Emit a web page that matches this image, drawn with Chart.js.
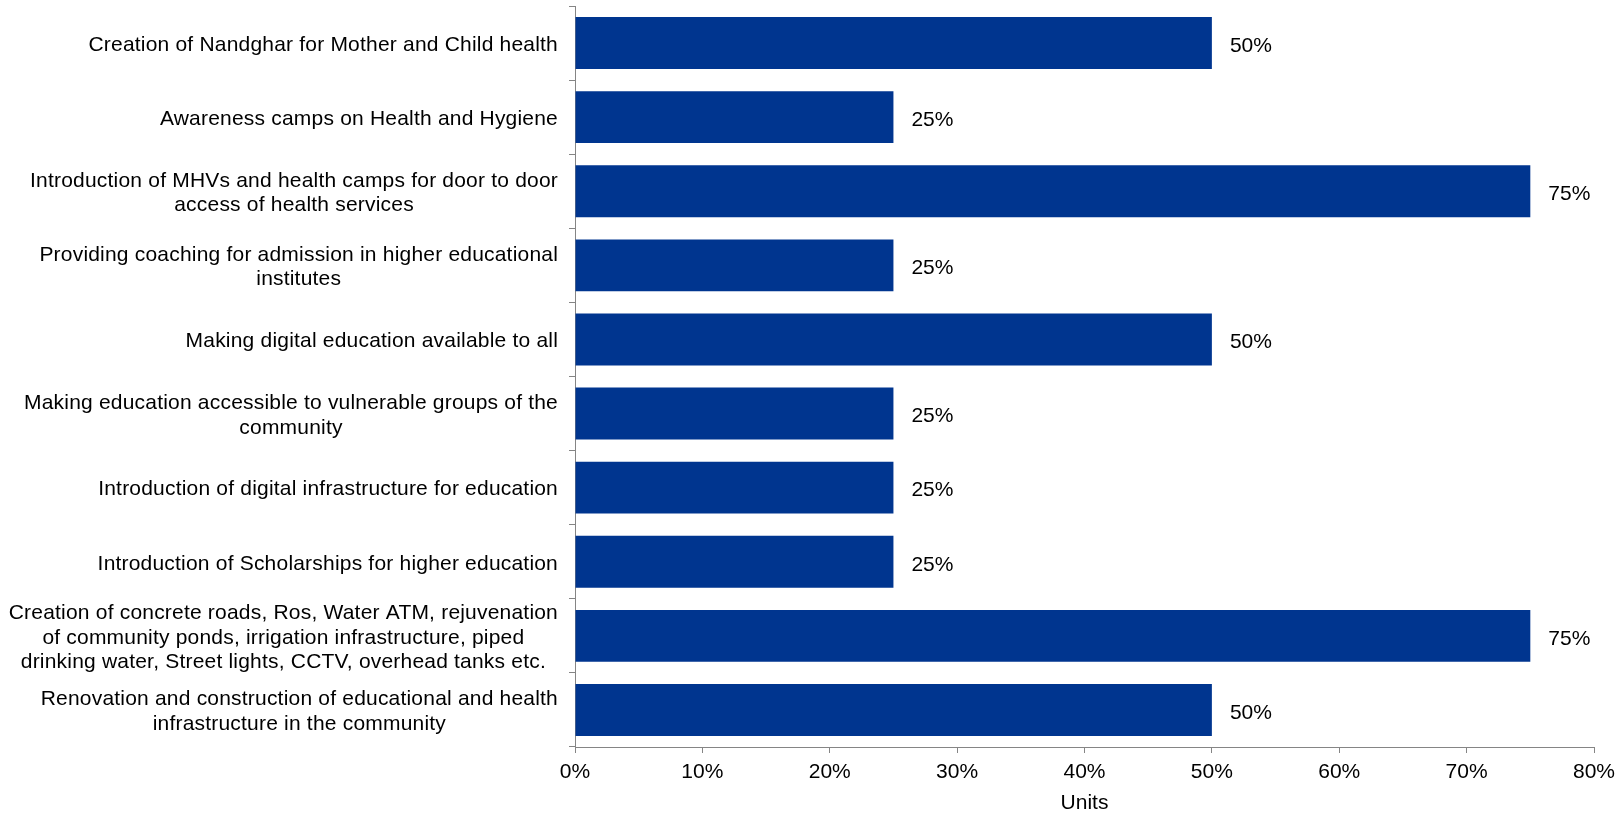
<!DOCTYPE html>
<html>
<head>
<meta charset="utf-8">
<script src="https://cdn.jsdelivr.net/npm/chart.js@4/dist/chart.umd.min.js"></script>
<style>
  html, body { margin: 0; padding: 0; background: #ffffff; }
  #wrap { width: 1616px; height: 814px; position: relative; }
</style>
</head>
<body>
<div id="wrap"><canvas id="c" width="1616" height="814"></canvas></div>
<script>
const categories = [
  "Creation of Nandghar for Mother and Child health",
  "Awareness camps on Health and Hygiene",
  ["Introduction of MHVs and health camps for door to door", "access of health services"],
  ["Providing coaching for admission in higher educational", "institutes"],
  "Making digital education available to all",
  ["Making education accessible to vulnerable groups of the", "community"],
  "Introduction of digital infrastructure for education",
  "Introduction of Scholarships for higher education",
  ["Creation of concrete roads, Ros, Water ATM, rejuvenation", "of community ponds, irrigation infrastructure, piped", "drinking water, Street lights, CCTV, overhead tanks etc."],
  ["Renovation and construction of educational and health", "infrastructure in the community"]
];
const values = [50, 25, 75, 25, 50, 25, 25, 25, 75, 50];
const xTickValues = [0, 10, 20, 30, 40, 50, 60, 70, 80];
const xTitle = "Units";

const FONT = '"Liberation Sans", Arial, sans-serif';
const AXIS_GREY = '#858585';

const yLabelPlugin = {
  id: 'yLabels',
  afterDraw(chart) {
    const ys = chart.scales.y;
    const ctx = chart.ctx;
    ctx.save();
    ctx.font = '21px ' + FONT;
    try { ctx.letterSpacing = '0.2px'; } catch (e) {}
    ctx.fillStyle = '#000000';
    ctx.textAlign = 'center';
    ctx.textBaseline = 'middle';
    const rightEdge = ys.right - 17;
    const lh = 24.5;
    categories.forEach((lab, i) => {
      const lines = Array.isArray(lab) ? lab : [lab];
      const w = Math.max(...lines.map(l => ctx.measureText(l).width));
      const cx = rightEdge - w / 2;
      const cy = ys.getPixelForValue(i) + 2;
      lines.forEach((l, j) => {
        ctx.fillText(l, cx, cy + (j - (lines.length - 1) / 2) * lh);
      });
    });
    ctx.restore();
  }
};

const valueLabelPlugin = {
  id: 'valueLabels',
  afterDatasetsDraw(chart) {
    const ctx = chart.ctx;
    const meta = chart.getDatasetMeta(0);
    ctx.save();
    ctx.font = '21px ' + FONT;
    ctx.fillStyle = '#000000';
    ctx.textAlign = 'left';
    ctx.textBaseline = 'middle';
    meta.data.forEach((bar, i) => {
      ctx.fillText(values[i] + '%', bar.x + 18, bar.y + 3);
    });
    ctx.restore();
  }
};

new Chart(document.getElementById('c'), {
  type: 'bar',
  data: {
    labels: categories,
    datasets: [{
      data: values,
      backgroundColor: '#00358F',
      borderWidth: 0,
      barPercentage: 0.70,
      categoryPercentage: 1.0
    }]
  },
  options: {
    indexAxis: 'y',
    responsive: false,
    animation: false,
    devicePixelRatio: 1,
    layout: { padding: { top: 6, right: 22, left: 0, bottom: 0 } },
    plugins: {
      legend: { display: false },
      tooltip: { enabled: false },
      title: { display: false }
    },
    scales: {
      x: {
        type: 'linear',
        min: 0,
        max: 80,
        afterBuildTicks(scale) {
          scale.ticks = xTickValues.map(v => ({ value: v }));
        },
        afterFit(scale) {
          scale.height = 67;
          scale.paddingLeft = 0;
          scale.paddingRight = 0;
        },
        ticks: {
          color: '#000000',
          font: { family: FONT, size: 21 },
          padding: 7,
          callback: (v) => v + '%'
        },
        grid: {
          display: true,
          drawOnChartArea: false,
          drawTicks: true,
          tickLength: 6,
          color: AXIS_GREY,
          lineWidth: 1
        },
        border: { display: true, color: AXIS_GREY, width: 1 },
        title: {
          display: true,
          text: xTitle,
          color: '#000000',
          font: { family: FONT, size: 21, lineHeight: 1.0 },
          padding: { top: 0, bottom: 0 }
        }
      },
      y: {
        type: 'category',
        afterFit(scale) { scale.width = 575; },
        ticks: { display: false },
        grid: {
          display: true,
          offset: true,
          drawOnChartArea: false,
          drawTicks: true,
          tickLength: 6,
          color: AXIS_GREY,
          lineWidth: 1
        },
        border: { display: true, color: AXIS_GREY, width: 1 }
      }
    }
  },
  plugins: [yLabelPlugin, valueLabelPlugin]
});
</script>
</body>
</html>
